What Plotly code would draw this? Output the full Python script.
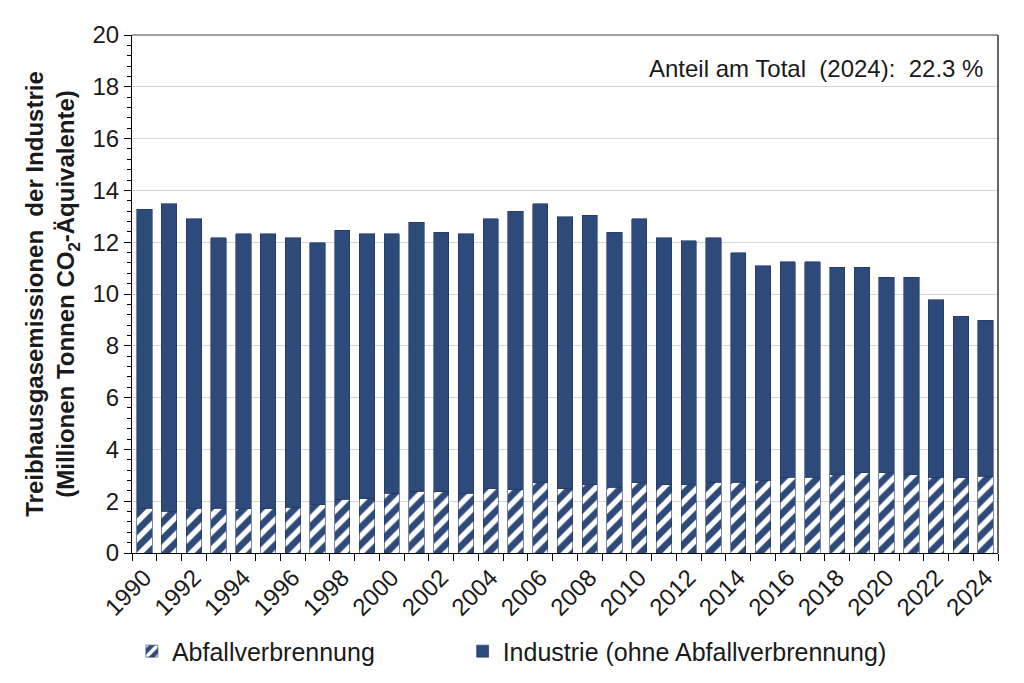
import plotly.graph_objects as go

years = list(range(1990, 2025))
totals = [13.28, 13.49, 12.9, 12.17, 12.33, 12.33, 12.17, 11.98, 12.46, 12.33,
          12.33, 12.77, 12.39, 12.33, 12.9, 13.19, 13.49, 12.99, 13.05, 12.39,
          12.9, 12.17, 12.05, 12.17, 11.6, 11.1, 11.24, 11.24, 11.03, 11.03,
          10.64, 10.64, 9.78, 9.14, 8.98]
abfall = [1.72, 1.61, 1.72, 1.72, 1.7, 1.7, 1.77, 1.86, 2.07, 2.1,
          2.3, 2.39, 2.36, 2.3, 2.48, 2.45, 2.71, 2.48, 2.64, 2.54,
          2.71, 2.63, 2.63, 2.73, 2.73, 2.81, 2.93, 2.93, 3.03, 3.1,
          3.1, 3.03, 2.93, 2.9, 2.96]
industrie = [round(t - a, 2) for t, a in zip(totals, abfall)]
tick_years = list(range(1990, 2025, 2))

blue = "#2e4a7a"
font = "Liberation Sans, Arial, sans-serif"
txt = "#1a1a1a"

fig = go.Figure()
fig.add_trace(go.Bar(
    x=years, y=abfall, name="Abfallverbrennung", width=0.62, legend="legend",
    marker=dict(color=blue, line=dict(color="#1f3560", width=0.6),
                pattern=dict(shape="/", fgcolor="white", bgcolor=blue,
                             size=12, solidity=0.45, fgopacity=1)),
))
fig.add_trace(go.Bar(
    x=years, y=industrie, name="Industrie (ohne Abfallverbrennung)", width=0.62, legend="legend2",
    marker=dict(color=blue, line=dict(color="#1f3560", width=0.6)),
))

leg_common = dict(orientation="h", xref="container", yref="container", y=0.058,
                  xanchor="left", yanchor="middle", font=dict(size=25, color=txt),
                  itemwidth=30, bgcolor="rgba(0,0,0,0)")
fig.update_layout(
    barmode="stack",
    width=1024, height=683,
    margin=dict(l=124, r=34, t=27, b=138),
    paper_bgcolor="white", plot_bgcolor="white",
    font=dict(family=font, color=txt, size=24),
    legend=dict(x=0.121, **leg_common),
    legend2=dict(x=0.444, **leg_common),
    showlegend=True,
)
fig.update_xaxes(
    range=[1989.5, 2024.5], tickmode="array", tickvals=tick_years,
    ticktext=[str(y) for y in tick_years], tickangle=-45, automargin=False,
    ticks="outside", ticklen=0, tickfont=dict(size=24, color=txt),
    showline=True, linecolor="black", linewidth=1.2, showgrid=False,
    minor=dict(ticks="outside", tick0=1989.5, dtick=1, ticklen=7, tickcolor="black", tickwidth=1.2),
)
fig.update_yaxes(
    range=[0, 20], dtick=2, tick0=0, ticks="outside", ticklen=7, tickcolor="black", tickwidth=1.2,
    tickfont=dict(size=24, color=txt), automargin=False,
    showline=True, linecolor="black", linewidth=1.2,
    showgrid=True, gridcolor="#d4d4d4", gridwidth=1, zeroline=False,
    minor=dict(ticks="outside", dtick=0.4, ticklen=4, tickcolor="black", tickwidth=1, showgrid=False),
    title=dict(text="<b>Treibhausgasemissionen  der Industrie<br>(Millionen Tonnen CO<sub>2</sub>-Äquivalente)</b>",
               font=dict(size=24, color=txt), standoff=10),
)
fig.add_shape(type="line", xref="paper", yref="paper", x0=0, x1=1, y0=1, y1=1,
              line=dict(color="#7f7f7f", width=1.5))
fig.add_shape(type="line", xref="paper", yref="paper", x0=1, x1=1, y0=0, y1=1,
              line=dict(color="#333333", width=1.5))
fig.add_annotation(xref="paper", yref="paper", x=0.985, y=0.936, xanchor="right", yanchor="middle",
                   text="Anteil am Total  (2024):  22.3 %", showarrow=False,
                   font=dict(size=24, color=txt))

fig.write_html("out.html")
